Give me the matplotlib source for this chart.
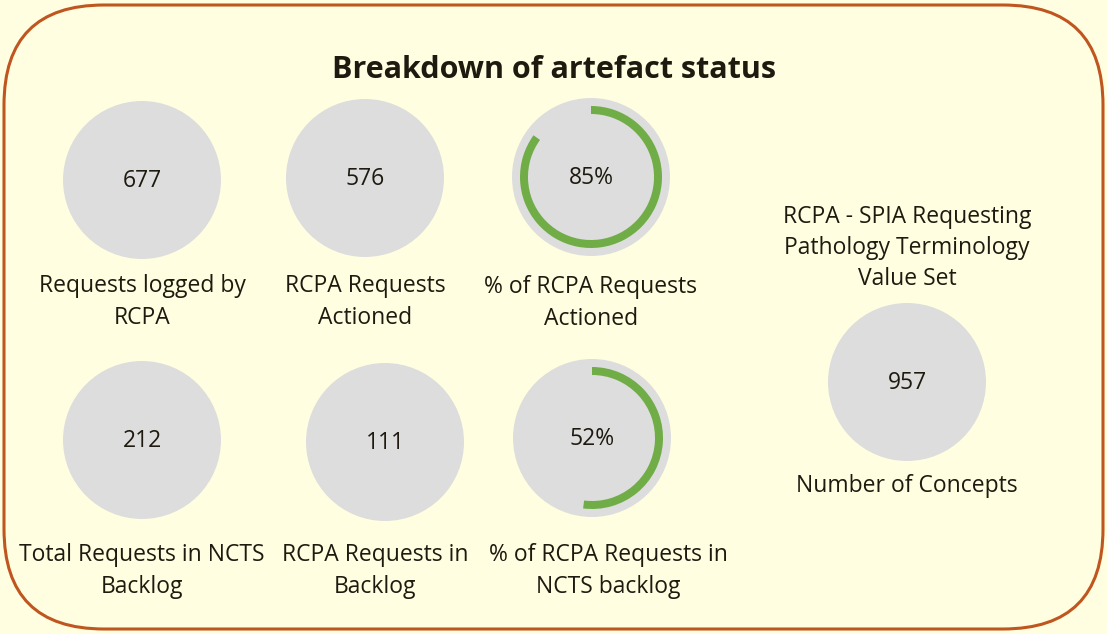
import matplotlib
matplotlib.use("Agg")
from matplotlib import pyplot as plt
from matplotlib.patches import Circle, Wedge, FancyBboxPatch

# tile values
values = ['677', '576', '85%', '212', '111', '52%', '957']
labels = ['Requests logged by\nRCPA', 'RCPA Requests\nActioned', '% of RCPA Requests\nActioned',
          'Total Requests in NCTS\nBacklog', 'RCPA Requests in\nBacklog', '% of RCPA Requests in\nNCTS backlog',
          'Number of Concepts']
gauge_pct = [None, None, 85, None, None, 52, None]
side_title = 'RCPA - SPIA Requesting\nPathology Terminology\nValue Set'
title = 'Breakdown of artefact status'

# layout in pixels from top-left (circle centre, label block centre)
centres = [(142, 180), (365, 178), (591, 177), (142, 440), (385, 442), (592, 438), (907, 382)]
label_pos = [(142, 302), (365, 302), (591, 303), (142, 571), (375, 571), (608, 571), (907, 486)]

W, H = 1107, 634
bg = '#FFFEE0'
grey = '#DDDDDD'
green = '#70AD47'
txt = '#1E1A10'
fs = 16.5

plt.rcParams['font.family'] = ['Open Sans', 'DejaVu Sans']

fig = plt.figure(figsize=(W / 100, H / 100), dpi=100, facecolor=bg)
ax = fig.add_axes([0, 0, 1, 1])
ax.set_xlim(0, W)
ax.set_ylim(0, H)
ax.set_aspect('equal')
ax.axis('off')


def fy(y):
    return H - y


border = FancyBboxPatch((4 + 100, 5 + 100), W - 8 - 200, H - 10 - 200,
                        boxstyle='round,pad=100', facecolor=bg, edgecolor='#C0561F', lw=2.2)
ax.add_patch(border)

ax.text(W / 2, fy(70), title, ha='center', va='center', fontsize=22, fontweight='bold', color=txt)

r = 79
for val, lab, pct, (cx, cy), (lx, ly) in zip(values, labels, gauge_pct, centres, label_pos):
    ax.add_patch(Circle((cx, fy(cy)), r, facecolor=grey, edgecolor='none'))
    if pct is not None:
        ax.add_patch(Wedge((cx, fy(cy)), 71, 90 - 360 * pct / 100, 90, width=8,
                           facecolor=green, edgecolor='none'))
    ax.text(cx, fy(cy + 1), val, ha='center', va='center', fontsize=fs, color=txt)
    ax.text(lx, fy(ly), lab, ha='center', va='center', fontsize=fs, color=txt, linespacing=1.4)

ax.text(907, fy(248), side_title, ha='center', va='center', fontsize=fs, color=txt, linespacing=1.4)

fig.savefig('out.png', dpi=100, facecolor=bg)
